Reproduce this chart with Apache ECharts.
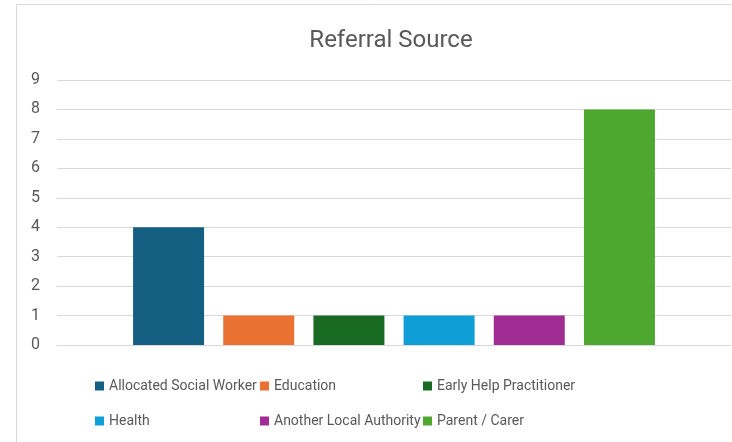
<!DOCTYPE html>
<html>
<head>
<meta charset="utf-8">
<script src="https://cdn.jsdelivr.net/npm/echarts@6/dist/echarts.min.js"></script>
<style>
  html, body { margin: 0; padding: 0; background: #fff; }
  #chart { width: 732px; height: 442px; }
</style>
</head>
<body>
<div id="chart"></div>
<script>
const categories = ['']
const seriesNames = ['Allocated Social Worker', 'Education', 'Early Help Practitioner', 'Health', 'Another Local Authority', 'Parent / Carer']
const seriesValues = [4, 1, 1, 1, 1, 8]
const colors = ['#156082', '#E97132', '#196B24', '#0F9ED5', '#A02B93', '#4EA72E']
const yTicks = { min: 0, max: 9, interval: 1 }

// legend slot positions (3 columns, 2 rows)
const legendPos = [
  [95, 379], [260, 379], [423, 379],
  [95, 414], [260, 414], [423, 414]
]

const chart = echarts.init(document.getElementById('chart'))
const textColor = '#595959'
const font = 'Roboto, "Liberation Sans", sans-serif'

chart.setOption({
  animation: false,
  color: colors,
  title: {
    text: 'Referral Source',
    left: 386,
    textAlign: 'center',
    top: 24,
    textStyle: { color: textColor, fontSize: 24, fontWeight: 'normal', fontFamily: font }
  },
  graphic: [{
    type: 'rect',
    shape: { x: 16.5, y: 4.5, width: 800, height: 600 },
    style: { fill: 'none', stroke: '#d9d9d9', lineWidth: 1 },
    silent: true
  }],
  grid: { left: 57, right: 1, top: 80, bottom: 97 },
  legend: seriesNames.map((name, i) => ({
    data: [name],
    left: legendPos[i][0],
    top: legendPos[i][1],
    icon: 'rect',
    itemWidth: 9,
    itemHeight: 9,
    padding: 0,
    textStyle: { color: textColor, fontSize: 14, fontFamily: font }
  })),
  xAxis: {
    type: 'category',
    data: categories,
    axisLine: { lineStyle: { color: '#d9d9d9' } },
    axisTick: { show: false },
    axisLabel: { show: false }
  },
  yAxis: {
    type: 'value',
    min: yTicks.min,
    max: yTicks.max,
    interval: yTicks.interval,
    axisLine: { show: false },
    axisTick: { show: false },
    axisLabel: { color: textColor, fontSize: 16, margin: 17, fontFamily: font },
    splitLine: { lineStyle: { color: '#d9d9d9' } }
  },
  series: seriesNames.map((name, i) => ({
    name: name,
    type: 'bar',
    barWidth: 71,
    barGap: '27%',
    data: [seriesValues[i]]
  }))
})
</script>
</body>
</html>
